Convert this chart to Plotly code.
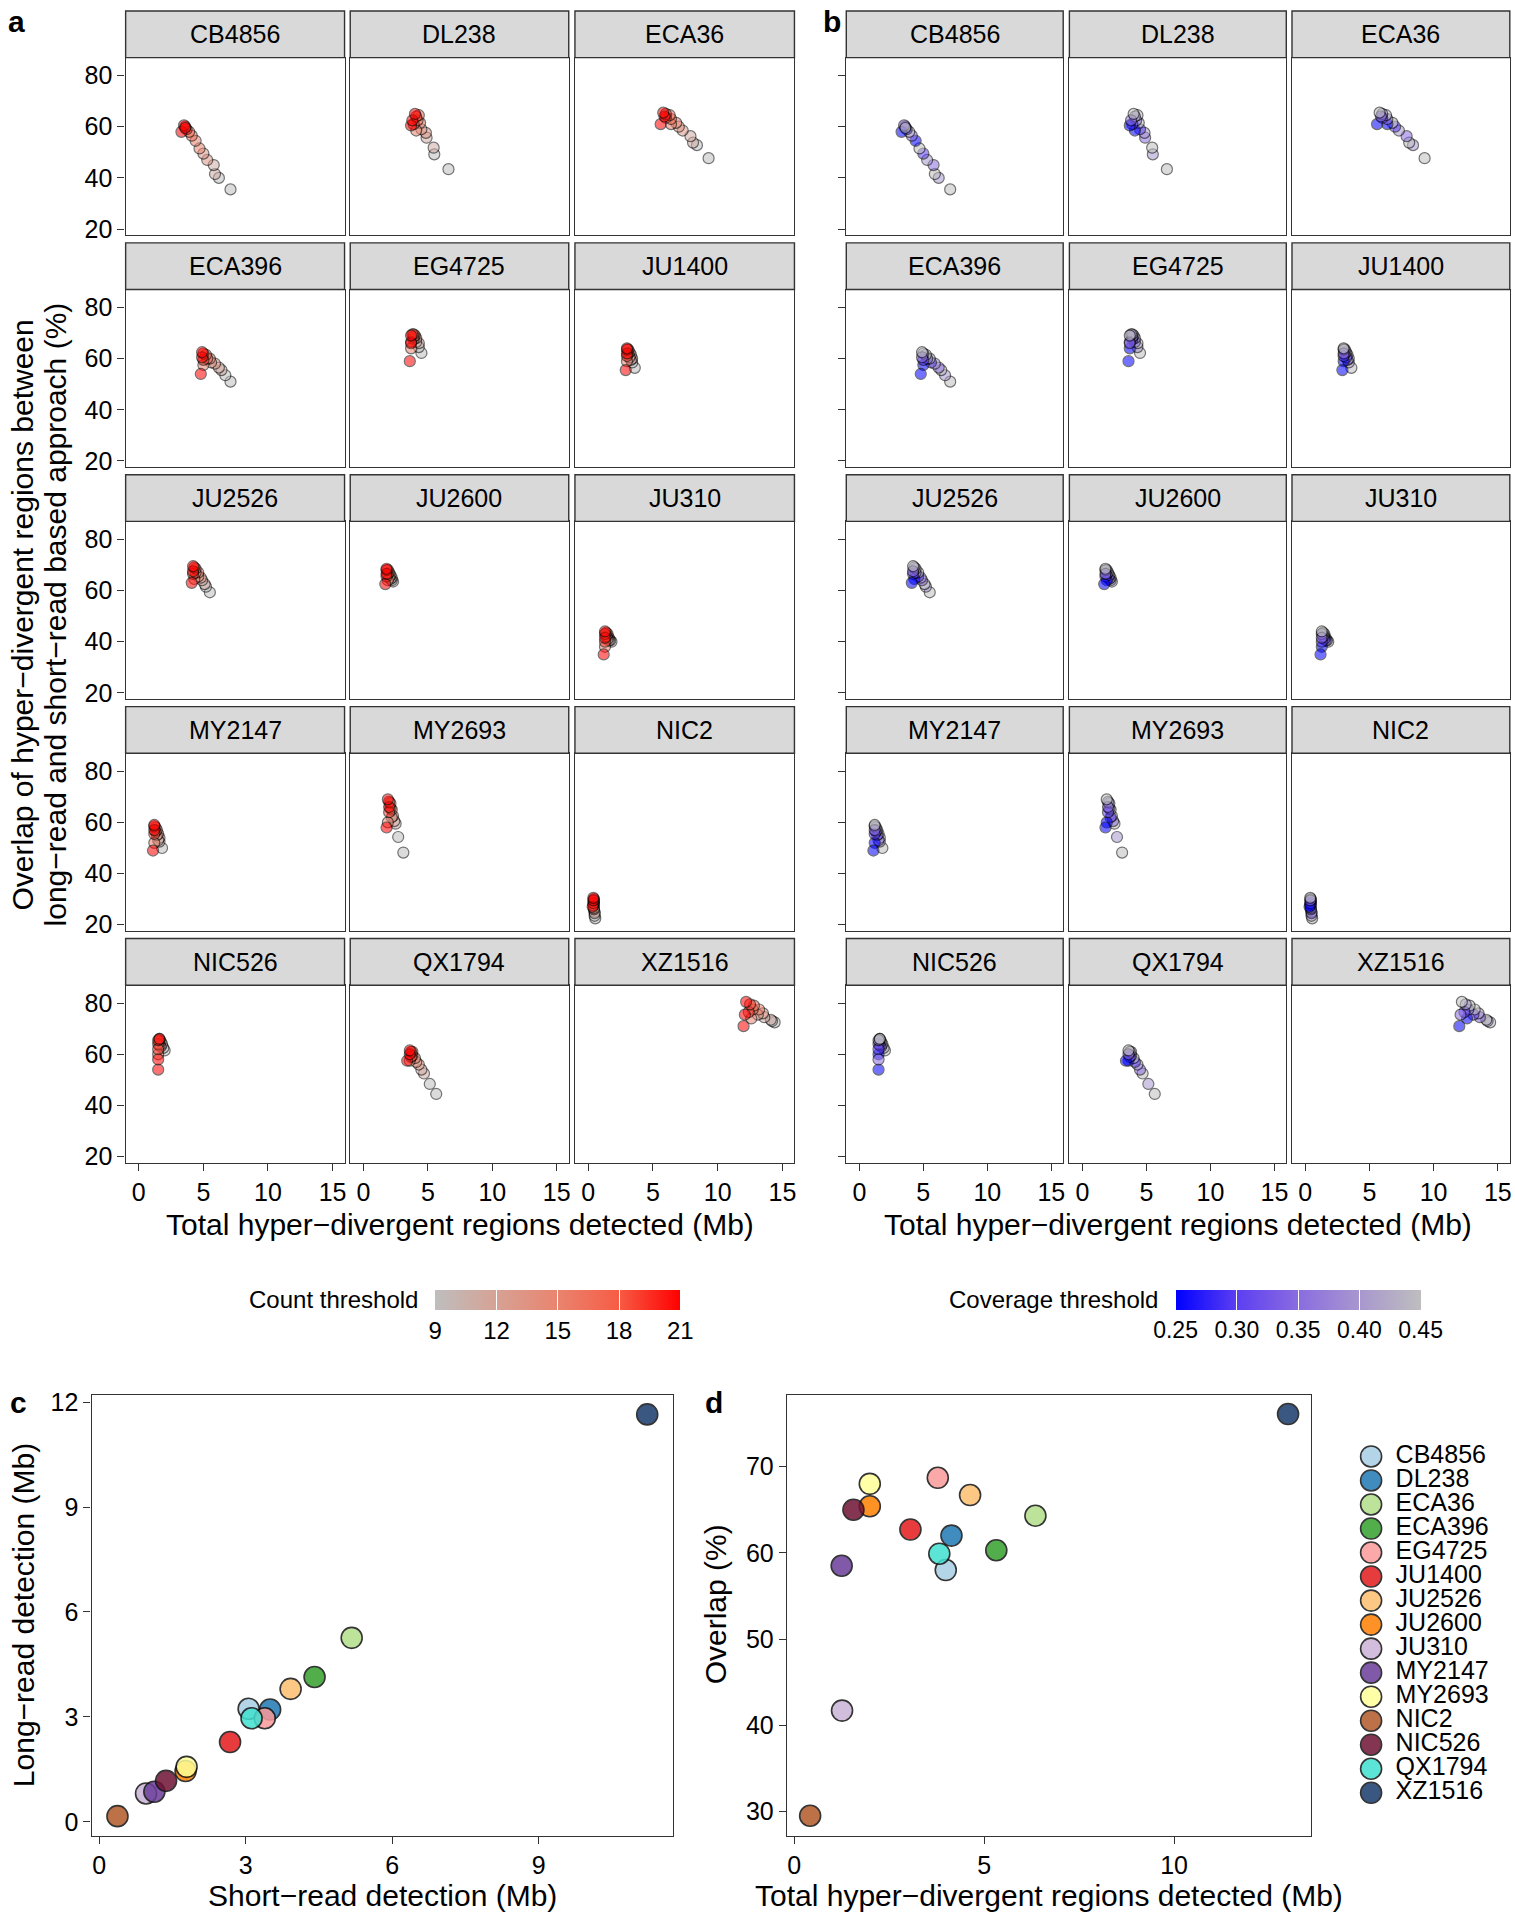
import plotly.graph_objects as go

W, H = 1515, 1920
FONT = "Liberation Sans, Arial, Helvetica, sans-serif"

STRAINS = ["CB4856", "DL238", "ECA36", "ECA396", "EG4725", "JU1400", "JU2526", "JU2600",
           "JU310", "MY2147", "MY2693", "NIC2", "NIC526", "QX1794", "XZ1516"]
STRAIN_COLORS = ["#A6CEE3", "#1F78B4", "#B2DF8A", "#33A02C", "#FB9A99", "#E31A1C", "#FDBF6F", "#FF7F00",
                 "#CAB2D6", "#6A3D9A", "#FFFF99", "#B15928", "#6E1233", "#40E0D0", "#173A6B"]

# threshold combinations (same for every strain)
COUNT_THRESHOLD = [9, 9, 11, 11, 13, 13, 15, 15, 17, 17, 19, 19, 21, 21, 21]
COVERAGE_THRESHOLD = [0.45, 0.40, 0.45, 0.35, 0.40, 0.30, 0.45, 0.25, 0.35, 0.45, 0.30, 0.40, 0.25, 0.35, 0.45]

CB4856_TOTAL = [7.1, 6.2, 5.9, 5.8, 5.3, 5.0, 4.7, 4.4, 4.1, 3.9, 3.7, 3.6, 3.3, 3.5, 3.6]
CB4856_OVERLAP = [35.5, 40.0, 41.5, 45.0, 47.0, 49.5, 51.5, 54.5, 56.5, 58.0, 59.0, 60.0, 58.0, 60.5, 59.5]
DL238_TOTAL = [6.6, 5.5, 5.45, 4.9, 4.85, 4.5, 4.4, 4.1, 4.2, 4.3, 3.9, 4.1, 3.7, 3.8, 4.0]
DL238_OVERLAP = [43.4, 49.2, 51.8, 55.7, 57.6, 59.0, 61.5, 58.5, 62.5, 64.5, 61.0, 64.0, 60.5, 62.5, 65.0]
ECA36_TOTAL = [9.3, 8.4, 8.1, 7.9, 7.3, 7.0, 6.8, 6.4, 6.4, 6.3, 6.0, 6.0, 5.6, 5.9, 5.8]
ECA36_OVERLAP = [47.7, 52.8, 53.8, 56.3, 58.5, 60.0, 61.5, 61.0, 63.0, 64.5, 63.5, 65.0, 61.0, 64.0, 65.5]
ECA396_TOTAL = [7.1, 6.7, 6.4, 6.2, 5.9, 5.6, 5.5, 5.0, 5.3, 5.2, 5.0, 5.0, 4.8, 4.9, 4.9]
ECA396_OVERLAP = [51.0, 53.5, 55.5, 56.5, 58.0, 58.5, 60.0, 57.5, 60.0, 61.5, 59.5, 62.0, 54.0, 60.5, 62.5]
EG4725_TOTAL = [4.5, 4.3, 4.3, 4.1, 4.1, 3.9, 4.0, 3.7, 3.9, 3.9, 3.7, 3.8, 3.6, 3.7, 3.7]
EG4725_OVERLAP = [62.2, 64.5, 66.0, 66.5, 68.0, 67.5, 69.0, 64.0, 68.5, 69.5, 66.5, 69.5, 59.0, 66.0, 69.0]
JU1400_TOTAL = [3.6, 3.4, 3.4, 3.3, 3.3, 3.2, 3.2, 3.0, 3.1, 3.1, 3.0, 3.0, 2.9, 3.0, 3.0]
JU1400_OVERLAP = [56.4, 58.5, 60.0, 59.5, 61.5, 60.5, 62.5, 59.0, 62.0, 63.5, 61.0, 63.5, 55.5, 62.0, 64.0]
JU2526_TOTAL = [5.5, 5.2, 5.1, 4.9, 4.8, 4.6, 4.6, 4.3, 4.4, 4.4, 4.2, 4.3, 4.1, 4.2, 4.2]
JU2526_OVERLAP = [59.3, 61.5, 62.5, 64.0, 65.0, 65.5, 67.0, 64.5, 67.0, 68.5, 66.5, 69.0, 63.0, 67.5, 69.5]
JU2600_TOTAL = [2.3, 2.2, 2.2, 2.1, 2.1, 2.0, 2.0, 1.9, 1.9, 1.9, 1.8, 1.8, 1.7, 1.8, 1.8]
JU2600_OVERLAP = [63.5, 64.0, 65.0, 64.5, 66.0, 65.0, 67.0, 64.0, 66.5, 68.0, 65.5, 68.0, 62.5, 66.5, 68.5]
JU310_TOTAL = [1.8, 1.7, 1.6, 1.6, 1.5, 1.5, 1.5, 1.3, 1.4, 1.4, 1.3, 1.3, 1.2, 1.3, 1.3]
JU310_OVERLAP = [40.0, 40.5, 41.5, 40.5, 42.0, 41.0, 43.0, 38.0, 42.0, 43.5, 40.0, 43.0, 35.0, 41.5, 44.0]
MY2147_TOTAL = [1.8, 1.6, 1.6, 1.5, 1.5, 1.4, 1.4, 1.2, 1.3, 1.3, 1.2, 1.2, 1.1, 1.2, 1.2]
MY2147_OVERLAP = [50.0, 52.5, 54.0, 53.0, 55.5, 55.0, 57.0, 52.0, 56.5, 58.0, 55.5, 58.5, 49.0, 57.0, 59.0]
MY2693_TOTAL = [3.1, 2.7, 2.5, 2.4, 2.3, 2.2, 2.2, 1.9, 2.1, 2.1, 2.0, 2.0, 1.8, 2.0, 1.9]
MY2693_OVERLAP = [48.2, 54.3, 59.5, 60.5, 62.5, 62.0, 65.0, 60.0, 65.5, 67.5, 64.0, 68.0, 58.0, 66.0, 69.0]
NIC2_TOTAL = [0.55, 0.5, 0.5, 0.5, 0.45, 0.45, 0.45, 0.4, 0.45, 0.45, 0.4, 0.45, 0.35, 0.4, 0.4]
NIC2_OVERLAP = [22.5, 23.5, 25.0, 24.5, 26.0, 26.5, 28.0, 27.5, 28.5, 29.5, 28.5, 30.0, 27.0, 29.5, 30.5]
NIC526_TOTAL = [2.0, 1.9, 1.8, 1.7, 1.7, 1.6, 1.6, 1.5, 1.5, 1.6, 1.5, 1.5, 1.5, 1.5, 1.6]
NIC526_OVERLAP = [61.5, 62.5, 64.0, 63.0, 65.0, 63.5, 65.5, 60.0, 64.0, 66.0, 62.0, 65.5, 54.0, 58.0, 66.0]
QX1794_TOTAL = [5.65, 5.15, 4.7, 4.5, 4.3, 4.1, 4.0, 3.6, 3.8, 3.8, 3.7, 3.7, 3.4, 3.6, 3.6]
QX1794_OVERLAP = [44.5, 48.4, 52.5, 54.0, 56.0, 57.0, 58.5, 57.5, 59.5, 61.0, 59.0, 61.0, 57.5, 60.0, 61.5]
XZ1516_TOTAL = [14.4, 14.2, 14.1, 13.6, 13.5, 13.1, 13.2, 12.6, 12.7, 12.8, 12.4, 12.5, 12.0, 12.1, 12.2]
XZ1516_OVERLAP = [72.5, 73.0, 73.5, 74.5, 76.0, 75.5, 77.5, 74.0, 77.5, 79.0, 76.5, 79.5, 71.0, 75.5, 80.5]

# panel c
SHORT_READ_MB = [3.06, 3.50, 5.17, 4.41, 3.39, 2.68, 3.92, 1.77, 0.96, 1.13, 1.79, 0.375, 1.37, 3.12, 11.22]
LONG_READ_MB = [3.23, 3.21, 5.26, 4.14, 2.96, 2.28, 3.80, 1.45, 0.81, 0.86, 1.57, 0.16, 1.17, 2.96, 11.65]
# panel d
TOTAL_DETECTED_MB = [3.99, 4.14, 6.35, 5.32, 3.78, 3.06, 4.63, 1.99, 1.26, 1.25, 1.99, 0.42, 1.56, 3.82, 13.0]
OVERLAP_PCT = [58.0, 62.0, 64.3, 60.3, 68.7, 62.7, 66.7, 65.4, 41.7, 58.5, 68.0, 29.5, 65.0, 59.9, 76.1]

FACET_X_TICKS = [0, 5, 10, 15]
FACET_Y_TICKS = [20, 40, 60, 80]
C_TICKS = [0, 3, 6, 9]
C_Y_TICKS = [0, 3, 6, 9, 12]
D_X_TICKS = [0, 5, 10]
D_Y_TICKS = [30, 40, 50, 60, 70]
COUNT_TICKS = [9, 12, 15, 18, 21]
COVERAGE_TICKS = [0.25, 0.30, 0.35, 0.40, 0.45]

TOTAL = {s: globals()[s + "_TOTAL"] for s in STRAINS}
OVERLAP = {s: globals()[s + "_OVERLAP"] for s in STRAINS}

COUNT_SCALE = [[0, "#bebebe"], [0.25, "#d6a295"], [0.5, "#e9846f"], [0.75, "#f75c45"], [1, "#ff0000"]]
COVER_SCALE = [[0, "#0000ff"], [0.25, "#5d3ff2"], [0.5, "#8a6ce0"], [0.75, "#a897cf"], [1, "#bebebe"]]

LINE = "#333333"


def fx(p):
    # page pixel -> paper fraction
    return min(max(p / W, 0.0), 1.0)


def fy(p):
    return min(max(1 - p / H, 0.0), 1.0)


fig = go.Figure()
layout = dict(width=W, height=H, margin=dict(l=0, r=0, t=0, b=0),
              paper_bgcolor="white", plot_bgcolor="white",
              font=dict(family=FONT, size=25, color="black"),
              showlegend=False)
shapes = []
annotations = []

A_COLS = [(125.8, 345.0), (350.7, 569.5), (575.7, 795.5)]
B_COLS = [(847.4, 1064.6), (1070.8, 1288.0), (1293.7, 1511.8)]
ROW_PITCH = 233.6
STRIP_TOP0, PANEL_TOP0, PANEL_BOT0 = 4.0, 51.0, 230.0

n = 0
for panel, cols, cax, cvals in (("a", A_COLS, "coloraxis", COUNT_THRESHOLD),
                                ("b", B_COLS, "coloraxis2", COVERAGE_THRESHOLD)):
    for i, strain in enumerate(STRAINS):
        r, c = divmod(i, 3)
        n += 1
        xl, xr = cols[c]
        st = STRIP_TOP0 + r * ROW_PITCH
        pt = PANEL_TOP0 + r * ROW_PITCH
        pb = PANEL_BOT0 + r * ROW_PITCH
        sfx = "" if n == 1 else str(n)
        bottom = (r == 4)
        left = (c == 0)
        layout["xaxis" + sfx] = dict(
            domain=[fx(xl), fx(xr)], range=[-1.02, 15.93], anchor="y" + sfx,
            showline=True, mirror=True, linecolor=LINE, linewidth=1.4,
            showgrid=False, zeroline=False,
            ticks="outside" if bottom else "", ticklen=7, tickwidth=1.4, tickcolor=LINE,
            tickvals=FACET_X_TICKS, showticklabels=bottom,
            tickfont=dict(size=25, color="black"))
        layout["yaxis" + sfx] = dict(
            domain=[fy(pb), fy(pt)], range=[17.55, 87.0], anchor="x" + sfx,
            showline=True, mirror=True, linecolor=LINE, linewidth=1.4,
            showgrid=False, zeroline=False,
            ticks="outside" if left else "", ticklen=7, tickwidth=1.4, tickcolor=LINE,
            tickvals=FACET_Y_TICKS, showticklabels=(left and panel == "a"),
            tickfont=dict(size=25, color="black"))
        shapes.append(dict(type="rect", xref="paper", yref="paper",
                           x0=fx(xl), x1=fx(xr), y0=fy(pt), y1=fy(st),
                           fillcolor="#d9d9d9", line=dict(color=LINE, width=1.4)))
        annotations.append(dict(x=fx((xl + xr) / 2), y=fy((st + pt) / 2), xref="paper", yref="paper",
                                text=strain, showarrow=False, xanchor="center", yanchor="middle",
                                font=dict(size=25, color="black")))
        fig.add_trace(go.Scatter(
            x=TOTAL[strain], y=OVERLAP[strain], mode="markers",
            xaxis="x" + sfx, yaxis="y" + sfx,
            marker=dict(color=cvals, coloraxis=cax, size=11, opacity=0.55,
                        line=dict(color="black", width=1.2)),
            name=strain, hoverinfo="x+y"))

# colour axes / colourbars
CB_TOP = 1292
layout["coloraxis"] = dict(
    cmin=9, cmax=21, colorscale=COUNT_SCALE,
    colorbar=dict(orientation="h", x=fx((436 + 681) / 2), xanchor="center",
                  y=fy(CB_TOP), yanchor="top", len=245, lenmode="pixels",
                  thickness=20, thicknessmode="pixels", outlinewidth=0,
                  ticks="inside", ticklen=20, tickcolor="white", tickwidth=1.2,
                  tickvals=COUNT_TICKS, tickfont=dict(size=24, color="black"),
                  xpad=0, ypad=0))
layout["coloraxis2"] = dict(
    cmin=0.25, cmax=0.45, colorscale=COVER_SCALE,
    colorbar=dict(orientation="h", x=fx((1177 + 1422.5) / 2), xanchor="center",
                  y=fy(CB_TOP), yanchor="top", len=245, lenmode="pixels",
                  thickness=20, thicknessmode="pixels", outlinewidth=0,
                  ticks="inside", ticklen=20, tickcolor="white", tickwidth=1.2,
                  tickvals=COVERAGE_TICKS, ticktext=["%.2f" % v for v in COVERAGE_TICKS],
                  tickfont=dict(size=23, color="black"),
                  xpad=0, ypad=0))
annotations.append(dict(x=fx(421), y=fy(CB_TOP + 10), text="Count threshold",
                        xanchor="right", yanchor="middle", font=dict(size=24)))
annotations.append(dict(x=fx(1162), y=fy(CB_TOP + 10), text="Coverage threshold",
                        xanchor="right", yanchor="middle", font=dict(size=24)))

# panel c
BOX_TOP, BOX_BOT = 1398, 1842
layout["xaxis31"] = dict(domain=[fx(91.7), fx(674)], range=[-0.155, 11.75], anchor="y31",
                         showline=True, mirror=True, linecolor=LINE, linewidth=1.4,
                         showgrid=False, zeroline=False, ticks="outside", ticklen=7,
                         tickwidth=1.4, tickcolor=LINE, tickvals=C_TICKS,
                         tickfont=dict(size=25, color="black"))
layout["yaxis31"] = dict(domain=[fy(BOX_BOT), fy(BOX_TOP)], range=[-0.395, 12.21], anchor="x31",
                         showline=True, mirror=True, linecolor=LINE, linewidth=1.4,
                         showgrid=False, zeroline=False, ticks="outside", ticklen=7,
                         tickwidth=1.4, tickcolor=LINE, tickvals=C_Y_TICKS,
                         tickfont=dict(size=25, color="black"))
fig.add_trace(go.Scatter(x=SHORT_READ_MB, y=LONG_READ_MB, mode="markers", xaxis="x31", yaxis="y31",
                         text=STRAINS, hoverinfo="text+x+y",
                         marker=dict(color=STRAIN_COLORS, size=21, opacity=0.85,
                                     line=dict(color="#111111", width=1.6))))

# panel d
layout["xaxis32"] = dict(domain=[fx(788), fx(1312.6)], range=[-0.19, 13.6], anchor="y32",
                         showline=True, mirror=True, linecolor=LINE, linewidth=1.4,
                         showgrid=False, zeroline=False, ticks="outside", ticklen=7,
                         tickwidth=1.4, tickcolor=LINE, tickvals=D_X_TICKS,
                         tickfont=dict(size=25, color="black"))
layout["yaxis32"] = dict(domain=[fy(BOX_BOT), fy(BOX_TOP)], range=[27.2, 78.33], anchor="x32",
                         showline=True, mirror=True, linecolor=LINE, linewidth=1.4,
                         showgrid=False, zeroline=False, ticks="outside", ticklen=7,
                         tickwidth=1.4, tickcolor=LINE, tickvals=D_Y_TICKS,
                         tickfont=dict(size=25, color="black"))
fig.add_trace(go.Scatter(x=TOTAL_DETECTED_MB, y=OVERLAP_PCT, mode="markers", xaxis="x32", yaxis="y32",
                         text=STRAINS, hoverinfo="text+x+y",
                         marker=dict(color=STRAIN_COLORS, size=21, opacity=0.85,
                                     line=dict(color="#111111", width=1.6))))

# legend for c / d
layout["xaxis33"] = dict(domain=[fx(1360), 1.0], range=[-0.5, 5.5], anchor="y33", visible=False)
layout["yaxis33"] = dict(domain=[fy(1811), fy(1448)], range=[len(STRAINS) - 0.5, -0.5], anchor="x33",
                         visible=False)
legend_idx = list(range(len(STRAINS)))
fig.add_trace(go.Scatter(x=[0] * len(STRAINS), y=legend_idx, mode="markers", xaxis="x33", yaxis="y33",
                         hoverinfo="skip",
                         marker=dict(color=STRAIN_COLORS, size=21, opacity=0.85,
                                     line=dict(color="#111111", width=1.6))))
fig.add_trace(go.Scatter(x=[0.95] * len(STRAINS), y=legend_idx, mode="text", xaxis="x33", yaxis="y33",
                         text=STRAINS, textposition="middle right", hoverinfo="skip",
                         textfont=dict(size=25, color="black")))

# titles
TITLE = 30
annotations += [
    dict(x=fx(460.7), y=fy(1226), text="Total hyper\u2212divergent regions detected (Mb)",
         xanchor="center", yanchor="middle", font=dict(size=TITLE)),
    dict(x=fx(1179.6), y=fy(1226), text="Total hyper\u2212divergent regions detected (Mb)",
         xanchor="center", yanchor="middle", font=dict(size=TITLE)),
    dict(x=fx(23), y=fy(612), text="Overlap of hyper\u2212divergent regions between",
         textangle=-90, xanchor="center", yanchor="middle", font=dict(size=TITLE)),
    dict(x=fx(56), y=fy(612), text="long\u2212read and short\u2212read based approach (%)",
         textangle=-90, xanchor="center", yanchor="middle", font=dict(size=TITLE)),
    dict(x=fx(383), y=fy(1902), text="Short\u2212read detection (Mb)",
         xanchor="center", yanchor="middle", font=dict(size=TITLE)),
    dict(x=fx(23), y=fy(1620), text="Long\u2212read detection (Mb)",
         textangle=-90, xanchor="center", yanchor="middle", font=dict(size=TITLE)),
    dict(x=fx(1050), y=fy(1902), text="Total hyper\u2212divergent regions detected (Mb)",
         xanchor="center", yanchor="middle", font=dict(size=TITLE)),
    dict(x=fx(716), y=fy(1609), text="Overlap (%)",
         textangle=-90, xanchor="center", yanchor="middle", font=dict(size=TITLE)),
]
for lab, x, y in (("a", 6, 15), ("b", 822, 15), ("c", 8, 1406), ("d", 704, 1406)):
    annotations.append(dict(x=fx(x), y=fy(y), text="<b>%s</b>" % lab, xanchor="left", yanchor="middle",
                            font=dict(size=30, color="black")))
for a in annotations:
    a.setdefault("xref", "paper")
    a.setdefault("yref", "paper")
    a.setdefault("showarrow", False)

layout["shapes"] = shapes
layout["annotations"] = annotations
fig.update_layout(**layout)

# the figure fills the 1515x1920 window exactly: drop the default 8px page margin
fig.write_html("out.html",
               config={"displayModeBar": False},
               post_script="document.body.style.margin='0';"
                           "document.documentElement.style.overflow='hidden';")
